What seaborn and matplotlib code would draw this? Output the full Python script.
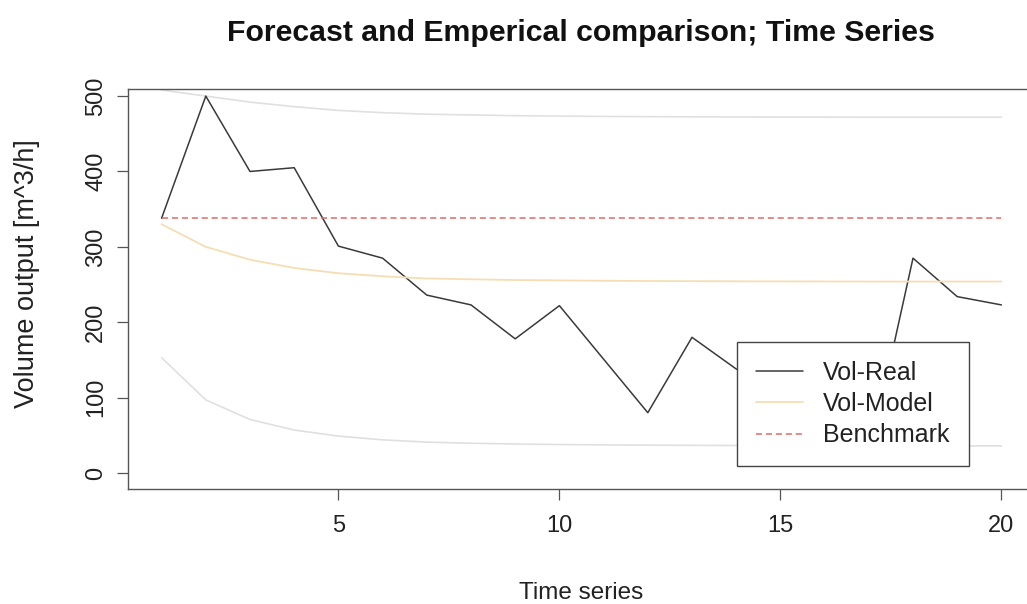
import numpy as np
import pandas as pd
import matplotlib
matplotlib.use("Agg")
import matplotlib.pyplot as plt
import seaborn as sns

# Observed and forecast volume output per time step
time_steps = list(range(1, 21))
vol_real = [338, 500, 400, 405, 301, 285, 236, 223, 178, 222,
            151, 80, 180, 138, 110, 75, 20, 285, 234, 223]
vol_model = [330, 300, 283, 272, 265, 261, 258, 257, 256, 255.5,
             255, 254.7, 254.5, 254.3, 254.2, 254.1, 254, 254, 254, 254]
upper_band = [508, 500, 492, 486, 481, 478, 476, 475, 474, 473.5,
              473, 472.7, 472.5, 472.3, 472.2, 472.1, 472, 472, 472, 472]
lower_band = [153, 97, 71, 57, 49, 44, 41, 39.5, 38.5, 37.8,
              37.3, 37, 36.7, 36.5, 36.3, 36.2, 36.1, 36, 36, 36]
benchmark_level = 338
benchmark = [benchmark_level] * len(time_steps)

x_ticks = [5, 10, 15, 20]
y_ticks = [0, 100, 200, 300, 400, 500]

sns.set_style("white")
plt.rcParams["font.family"] = ["Liberation Sans", "DejaVu Sans"]

W, H = 1027, 604
fig = plt.figure(figsize=(W / 100, H / 100), dpi=100)
ax = fig.add_axes([128 / W, (H - 489) / H, 907 / W, 399.7 / H])

df = pd.DataFrame({
    "t": time_steps,
    "real": vol_real,
    "model": vol_model,
    "upper": upper_band,
    "lower": lower_band,
    "bench": benchmark,
})

sns.lineplot(data=df, x="t", y="upper", ax=ax, color="#e0e0e0", lw=1.2)
sns.lineplot(data=df, x="t", y="lower", ax=ax, color="#e0e0e0", lw=1.2)
sns.lineplot(data=df, x="t", y="real", ax=ax, color="#3a3a3a", lw=1.1,
             label="Vol-Real")
sns.lineplot(data=df, x="t", y="model", ax=ax, color="#f5deb3", lw=1.3,
             label="Vol-Model")
sns.lineplot(data=df, x="t", y="bench", ax=ax, color="#e06a6a", lw=1.1,
             label="Benchmark", dashes=False, linestyle=(0, (4, 2.5)))

ax.set_xlim(0.24, 20.76)
ax.set_ylim(-21.2, 509)
ax.set_xticks(x_ticks)
ax.set_yticks(y_ticks)
ax.set_yticklabels([str(v) for v in y_ticks], rotation=90, va="center")

for side in ["left", "bottom", "top", "right"]:
    ax.spines[side].set_visible(True)
    ax.spines[side].set_color("#555555")
    ax.spines[side].set_linewidth(1.0)

ax.tick_params(axis="both", direction="out", length=8, width=0.9,
               color="#555555", labelsize=17, labelcolor="#222222",
               bottom=True, left=True)
ax.tick_params(axis="x", pad=11)
ax.tick_params(axis="y", pad=7)

ax.set_xlabel("Time series", fontsize=17.5, color="#222222")
ax.xaxis.set_label_coords(0.5, -(593 - 489) / 399.7)
ax.xaxis.label.set_va("center")
ax.set_ylabel("Volume output [m^3/h]", fontsize=19.5, color="#222222")
ax.yaxis.set_label_coords((27 - 128) / 907, (489 - 274) / 399.7)
ax.yaxis.label.set_va("center")

fig.text(581 / W, 1 - 33 / H,
         "Forecast and Emperical comparison; Time Series",
         fontsize=21.8, fontweight="bold", color="#111111",
         ha="center", va="center")

leg = ax.legend(loc="upper left",
                bbox_to_anchor=((737 - 128) / 907, (489 - 342) / 399.7),
                fontsize=18, frameon=True, fancybox=False,
                edgecolor="#444444", framealpha=1.0, handlelength=1.9,
                handletextpad=0.8, borderpad=0.75, labelspacing=0.29,
                borderaxespad=0)
leg.get_frame().set_linewidth(1.0)
leg.set_zorder(10)
for txt in leg.get_texts():
    txt.set_color("#222222")

fig.savefig("out.png", dpi=100)
